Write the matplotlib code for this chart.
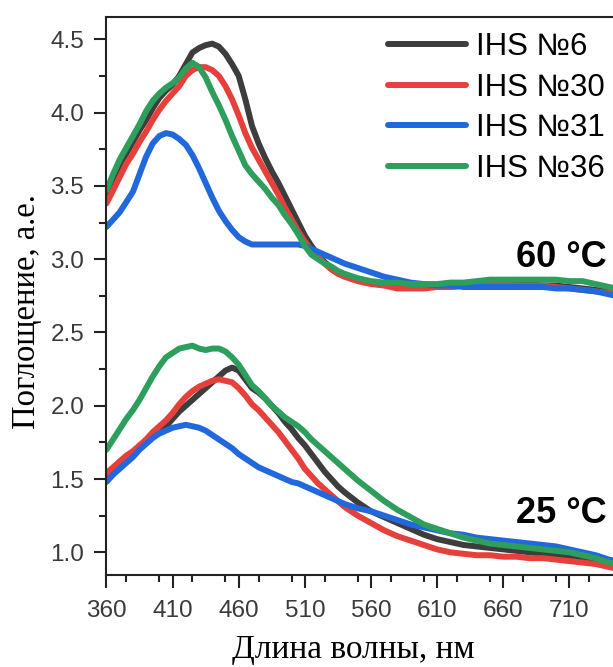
import numpy as np
import matplotlib.pyplot as plt
from matplotlib.ticker import MultipleLocator

# wavelength grid (nm): 5 nm steps up to 540, 10 nm steps after
wavelength = list(range(360, 541, 5)) + list(range(550, 751, 10))

labels = ['IHS №6', 'IHS №30', 'IHS №31', 'IHS №36']
colors = ['#3d3d3d', '#e5403c', '#2168dc', '#2e9e5c']

# 60 °C spectra
hot_6 = [3.43, 3.52, 3.62, 3.72, 3.80, 3.88, 3.95, 4.03, 4.10, 4.15, 4.19, 4.25, 4.33,
         4.41, 4.44, 4.46, 4.47, 4.45, 4.40, 4.33, 4.25, 4.09, 3.91, 3.79, 3.69, 3.60,
         3.52, 3.43, 3.34, 3.25, 3.16, 3.09, 3.03, 2.98, 2.94, 2.91, 2.89,
         2.86, 2.84, 2.83, 2.82, 2.81, 2.81, 2.81, 2.81, 2.82, 2.82, 2.82, 2.83, 2.83,
         2.83, 2.82, 2.82, 2.81, 2.80, 2.79, 2.78, 2.77]
hot_30 = [3.38, 3.47, 3.56, 3.65, 3.72, 3.80, 3.87, 3.95, 4.02, 4.08, 4.13, 4.18, 4.25,
          4.29, 4.31, 4.31, 4.29, 4.25, 4.18, 4.09, 3.98, 3.86, 3.76, 3.68, 3.60, 3.52,
          3.44, 3.35, 3.27, 3.19, 3.12, 3.06, 3.02, 2.97, 2.93, 2.90, 2.88,
          2.85, 2.83, 2.82, 2.80, 2.80, 2.80, 2.81, 2.81, 2.82, 2.82, 2.83, 2.83, 2.82,
          2.82, 2.82, 2.81, 2.80, 2.79, 2.78, 2.77, 2.76]
hot_31 = [3.22, 3.27, 3.32, 3.39, 3.46, 3.58, 3.70, 3.79, 3.84, 3.86, 3.85, 3.82, 3.78,
          3.71, 3.62, 3.52, 3.42, 3.33, 3.26, 3.20, 3.15, 3.12, 3.10, 3.10, 3.10, 3.10,
          3.10, 3.10, 3.10, 3.10, 3.09, 3.07, 3.05, 3.03, 3.01, 2.99, 2.97,
          2.94, 2.91, 2.88, 2.86, 2.84, 2.83, 2.82, 2.82, 2.81, 2.81, 2.81, 2.81, 2.81,
          2.81, 2.81, 2.80, 2.80, 2.79, 2.78, 2.76, 2.74]
hot_36 = [3.47, 3.58, 3.68, 3.76, 3.84, 3.92, 4.01, 4.08, 4.13, 4.17, 4.20, 4.24, 4.30,
          4.34, 4.31, 4.24, 4.14, 4.05, 3.95, 3.84, 3.74, 3.64, 3.58, 3.53, 3.48, 3.42,
          3.37, 3.30, 3.24, 3.17, 3.09, 3.03, 3.00, 2.97, 2.95, 2.92, 2.90,
          2.87, 2.85, 2.84, 2.84, 2.83, 2.83, 2.83, 2.84, 2.84, 2.85, 2.86, 2.86, 2.86,
          2.86, 2.86, 2.86, 2.85, 2.85, 2.83, 2.81, 2.79]

# 25 °C spectra
cold_6 = [1.53, 1.56, 1.60, 1.64, 1.67, 1.71, 1.75, 1.79, 1.83, 1.86, 1.91, 1.96, 2.00,
          2.04, 2.08, 2.12, 2.16, 2.20, 2.24, 2.26, 2.24, 2.18, 2.12, 2.09, 2.05, 2.00,
          1.95, 1.89, 1.84, 1.78, 1.73, 1.67, 1.61, 1.55, 1.50, 1.45, 1.41,
          1.34, 1.28, 1.24, 1.20, 1.16, 1.12, 1.09, 1.07, 1.05, 1.04, 1.03, 1.02, 1.01,
          1.00, 0.99, 0.98, 0.97, 0.95, 0.94, 0.92, 0.90]
cold_30 = [1.54, 1.58, 1.62, 1.66, 1.69, 1.73, 1.77, 1.82, 1.86, 1.90, 1.95, 2.01, 2.06,
           2.10, 2.13, 2.15, 2.17, 2.18, 2.17, 2.16, 2.12, 2.07, 2.01, 1.97, 1.92, 1.87,
           1.82, 1.76, 1.70, 1.64, 1.57, 1.52, 1.47, 1.43, 1.39, 1.35, 1.31,
           1.25, 1.20, 1.15, 1.11, 1.08, 1.05, 1.02, 1.00, 0.99, 0.98, 0.98, 0.97, 0.97,
           0.96, 0.96, 0.95, 0.94, 0.93, 0.92, 0.90, 0.88]
cold_31 = [1.48, 1.53, 1.57, 1.61, 1.65, 1.70, 1.74, 1.78, 1.81, 1.83, 1.85, 1.86, 1.87,
           1.86, 1.85, 1.83, 1.80, 1.77, 1.74, 1.71, 1.67, 1.64, 1.61, 1.58, 1.56, 1.54,
           1.52, 1.50, 1.48, 1.47, 1.45, 1.43, 1.41, 1.39, 1.37, 1.35, 1.33,
           1.30, 1.28, 1.25, 1.22, 1.19, 1.17, 1.15, 1.13, 1.12, 1.10, 1.09, 1.08, 1.07,
           1.06, 1.05, 1.04, 1.02, 1.00, 0.98, 0.95, 0.93]
cold_36 = [1.70, 1.77, 1.84, 1.91, 1.97, 2.04, 2.12, 2.20, 2.27, 2.33, 2.36, 2.39, 2.40,
           2.41, 2.39, 2.38, 2.39, 2.39, 2.37, 2.33, 2.28, 2.21, 2.14, 2.10, 2.05, 2.00,
           1.96, 1.92, 1.89, 1.86, 1.82, 1.77, 1.73, 1.69, 1.65, 1.61, 1.57,
           1.49, 1.42, 1.35, 1.29, 1.24, 1.19, 1.16, 1.13, 1.10, 1.08, 1.06, 1.05, 1.04,
           1.03, 1.02, 1.01, 1.00, 0.98, 0.96, 0.93, 0.91]

hot = [hot_6, hot_30, hot_31, hot_36]
cold = [cold_6, cold_30, cold_31, cold_36]

plt.rcParams['font.family'] = 'Liberation Sans'

fig = plt.figure(figsize=(6.13, 6.67), dpi=100)
# the original picture is cropped on the right, so the axes run past the edge
ax = fig.add_axes([0.1737, 0.1379, 0.8413, 0.8366])

for i in range(4):
    ax.plot(wavelength, cold[i], color=colors[i], linewidth=4.3, solid_capstyle='round')
    ax.plot(wavelength, hot[i], color=colors[i], linewidth=4.3, solid_capstyle='round',
            label=labels[i])

ax.set_xlim(360, 750)
ax.set_ylim(0.845, 4.652)
ax.set_xticks(np.arange(360, 711, 50))
ax.xaxis.set_minor_locator(MultipleLocator(25))
ax.set_yticks([1.0, 1.5, 2.0, 2.5, 3.0, 3.5, 4.0, 4.5])
ax.yaxis.set_minor_locator(MultipleLocator(0.25))
ax.yaxis.set_major_formatter(plt.FormatStrFormatter('%.1f'))

ax.tick_params(which='major', direction='out', length=9, width=1.5, color='#222222',
               labelsize=17.5, labelcolor='#3a3a3a')
ax.tick_params(which='minor', direction='out', length=5, width=1.5, color='#222222')
ax.tick_params(axis='x', which='major', pad=9)
ax.tick_params(axis='y', which='major', pad=7)
for side in ['left', 'bottom', 'top', 'right']:
    ax.spines[side].set_linewidth(1.5)
    ax.spines[side].set_color('#222222')

ax.text(670, 2.948, '60 °C', fontsize=26, fontweight='bold', va='baseline')
ax.text(670, 1.198, '25 °C', fontsize=26, fontweight='bold', va='baseline')

ax.legend(loc='upper left', bbox_to_anchor=(0.633, 0.952), bbox_transform=fig.transFigure,
          frameon=False, fontsize=22.5, handlelength=2.5, handletextpad=0.3,
          labelspacing=0.34, borderpad=0, borderaxespad=0)

fig.text(353 / 613, 0.014, 'Длина волны, нм', family='Liberation Serif', fontsize=24,
         ha='center', va='baseline')
fig.text(27 / 613, 1 - 312 / 667, 'Поглощение, а.е.', family='Liberation Serif',
         fontsize=23.5, rotation=90, ha='center', va='center')

fig.savefig('out.png', dpi=100)
